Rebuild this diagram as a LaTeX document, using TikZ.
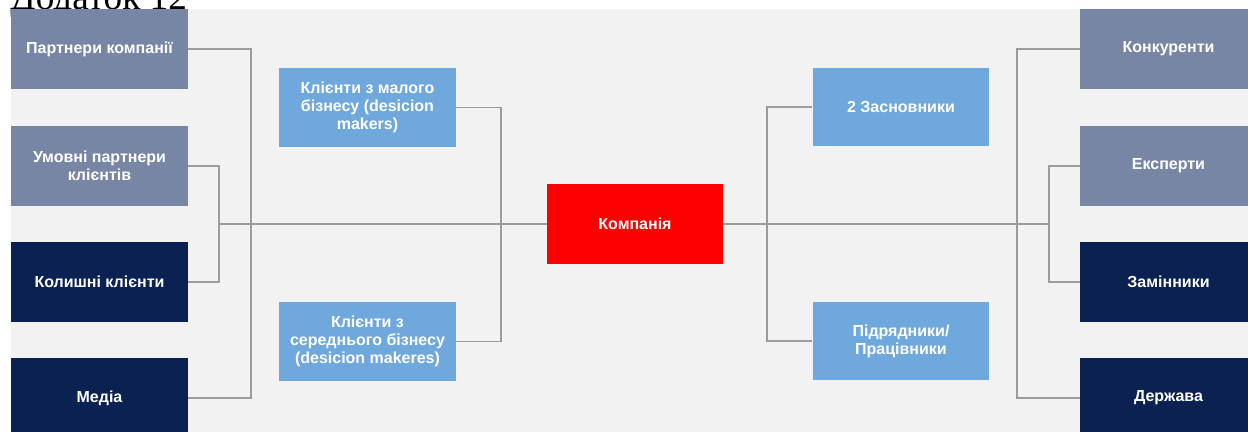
\documentclass[tikz,border=0pt]{standalone}
\usepackage{fontspec}
\setmainfont{Liberation Serif}
\newfontfamily\boxfont{Liberation Sans}
\usepackage{xcolor}
\definecolor{Cbg}{HTML}{F2F2F2}
\definecolor{Cgb}{HTML}{7886A5}
\definecolor{Cnv}{HTML}{0B2152}
\definecolor{Clb}{HTML}{6FA8DC}
\definecolor{Crd}{HTML}{FF0000}
\definecolor{Cln}{HTML}{9C9C9C}
\tikzset{
  box/.style  = {inner sep=2pt, align=center, text=white,
                 font=\boxfont\bfseries\fontsize{9.1}{10.3}\selectfont,
                 minimum width=3.54cm, minimum height=1.6cm},
  pgb/.style  = {box, fill=Cgb},
  pnv/.style  = {box, fill=Cnv},
  pcl/.style  = {box, fill=Clb, minimum height=1.58cm},
  core/.style = {box, fill=Crd, minimum width=3.52cm},
  link/.style = {draw=Cln, line width=0.7pt},
}

\begin{document}
\begin{tikzpicture}[x=0.02cm, y=-0.02cm]

\useasboundingbox (0,0) rectangle (1248,432);

%%──────────────────────────────────────────────────
%% Title and background
%%──────────────────────────────────────────────────
\node[font=\fontsize{21.2}{25}\selectfont, anchor=base west, inner sep=0pt]
  (title) at (10,9.5) {Додаток 12};
\fill[Cbg] (11,9) rectangle (1260,440);

%%──────────────────────────────────────────────────
%% Left side
%%──────────────────────────────────────────────────
\node[pgb] (partner) at (99.5,49)  {Партнери компанії};
\node[pgb] (cond)    at (99.5,166) {Умовні партнери\\клієнтів};
\node[pnv] (former)  at (99.5,282) {Колишні клієнти};
\node[pnv] (media)   at (99.5,398) {Медіа};

\node[pcl] (small)  at (367.5,107.5) {Клієнти з малого\\бізнесу (desicion\\makers)};
\node[pcl] (medium) at (367.5,341.5) {Клієнти з\\середнього бізнесу\\(desicion makeres)};

%%──────────────────────────────────────────────────
%% Centre
%%──────────────────────────────────────────────────
\node[core] (comp) at (635,224) {Компанія};

%%──────────────────────────────────────────────────
%% Right side
%%──────────────────────────────────────────────────
\node[pcl] (found) at (901,107) {2 Засновники};
\node[pcl] (contr) at (901,341) {Підрядники/\\Працівники};

\node[pgb] (compet) at (1168.5,49)  {Конкуренти};
\node[pgb] (expert) at (1168.5,166) {Експерти};
\node[pnv] (subst)  at (1168.5,282) {Замінники};
\node[pnv] (state)  at (1168.5,398) {Держава};

%%──────────────────────────────────────────────────
%% Brackets
%%──────────────────────────────────────────────────
\coordinate (jl2) at (219,224);
\coordinate (jl1) at (251,224);
\coordinate (jm)  at (501,224);
\coordinate (jr1) at (767,224);
\coordinate (jr2) at (1017,224);
\coordinate (jr3) at (1049,224);

\draw[link] (partner.east) -| (jl1) |- (media.east);
\draw[link] (cond.east)    -| (jl2) |- (former.east);
\draw[link] (small.east)   -| (jm)  |- (medium.east);
\draw[link] (jl2) -- (comp.west);

\draw[link] (found.west)  -| (jr1) |- (contr.west);
\draw[link] (compet.west) -| (jr2) |- (state.west);
\draw[link] (expert.west) -| (jr3) |- (subst.west);
\draw[link] (comp.east) -- (jr3);

\end{tikzpicture}
\end{document}
